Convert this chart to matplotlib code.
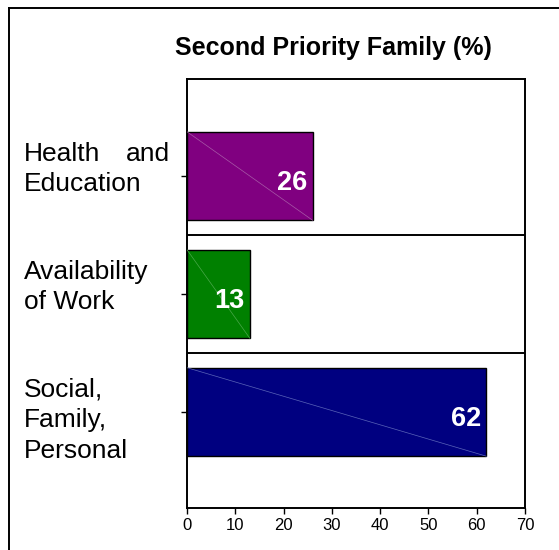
import matplotlib
matplotlib.use("Agg")
import matplotlib.pyplot as plt
import matplotlib.transforms as mtrans
from matplotlib.lines import Line2D

plt.rcParams['font.family'] = ['Liberation Sans', 'DejaVu Sans']

# data, bottom to top
categories = ["Social,\nFamily,\nPersonal", "Availability\nof Work", "Health and\nEducation"]
values = [62, 13, 26]
bar_colors = ["#000080", "#008000", "#800080"]
diag_colors = ["#5a64b8", "#4aa84a", "#a85aa8"]
title = "Second Priority Family (%)"
xticks = [0, 10, 20, 30, 40, 50, 60, 70]

W, H = 559, 550
fig = plt.figure(figsize=(W / 100, H / 100), dpi=100)
ax = fig.add_axes([187 / W, 1 - 508 / H, (525 - 187) / W, (508 - 79) / H])

pos = list(range(len(categories)))
bh = 0.75
ax.barh(pos, values, height=bh, color=bar_colors, edgecolor="black", linewidth=1.0, zorder=2)

# thin diagonal inside each bar, top-left to bottom-right
for p, v, c in zip(pos, values, diag_colors):
    ax.plot([0, v], [p + bh / 2, p - bh / 2], color=c, lw=0.5, zorder=3)

# value labels, white bold, right side of bar
for p, v in zip(pos, values):
    ax.annotate(str(v), xy=(v, p), xytext=(-4, -10), textcoords="offset points",
                ha="right", va="baseline", color="white", fontsize=19.5,
                fontweight="bold", zorder=4)

# separators between categories
for p in pos[:-1]:
    ax.axhline(p + 0.5, color="black", lw=1.4, zorder=1)

ax.set_xlim(0, 70)
ax.set_ylim(-0.814, 2.822)
ax.set_xticks(xticks)
ax.set_xticklabels([str(t) for t in xticks], fontsize=12)
ax.set_yticks(pos)
ax.set_yticklabels([])
ax.tick_params(axis="both", direction="out", length=4, width=1, pad=3)
for s in ax.spines.values():
    s.set_linewidth(1.4)

# category labels, left aligned, wrapped lines justified
blend = mtrans.blended_transform_factory(fig.transFigure, ax.transData)
x_left, x_right = 24 / W, 170 / W
for p, lab in zip(pos, categories):
    lines = lab.split("\n")
    for i, line in enumerate(lines):
        dy = (-15 + 30.5 * i) * 72 / 100
        tr = blend + mtrans.ScaledTranslation(0, -dy / 72, fig.dpi_scale_trans)
        words = line.split(" ")
        if i < len(lines) - 1 and len(words) > 1:
            fig.text(x_left, p, words[0], transform=tr, ha="left", va="baseline", fontsize=19)
            fig.text(x_right, p, words[-1], transform=tr, ha="right", va="baseline", fontsize=19)
        else:
            fig.text(x_left, p, line, transform=tr, ha="left", va="baseline", fontsize=19)

fig.text(333 / W, 1 - 48 / H, title, ha="center", va="center", fontsize=18, fontweight="bold")

# outer frame (top and left edges visible)
fig.add_artist(Line2D([9 / W, 1.0], [1 - 8 / H, 1 - 8 / H], color="black", lw=1.4, transform=fig.transFigure))
fig.add_artist(Line2D([9 / W, 9 / W], [0.0, 1 - 8 / H], color="black", lw=1.4, transform=fig.transFigure))

fig.savefig("out.png", dpi=100)
